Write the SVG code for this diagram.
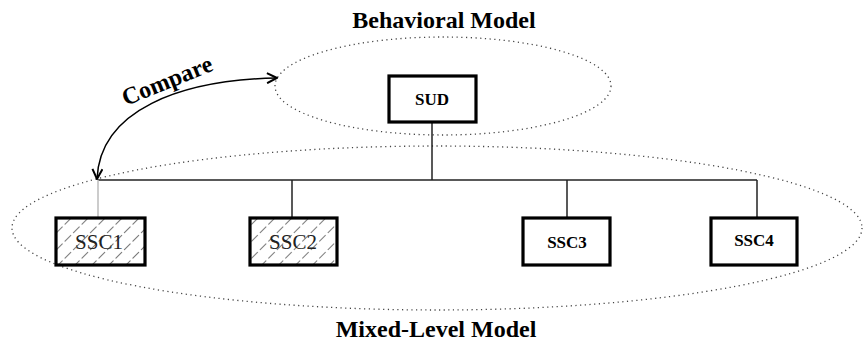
<svg xmlns="http://www.w3.org/2000/svg" width="864" height="345" viewBox="0 0 864 345">
<style>
text{font-family:"Liberation Serif","Times New Roman","DejaVu Serif",serif}
.ell{fill:none;stroke:#444;stroke-width:1.3;stroke-dasharray:1.2 3.5}
.box{fill:#fff;stroke:#000;stroke-width:3.2}
.hbox{fill:url(#hatch);stroke:#000;stroke-width:3.2}
.lbl{font-weight:bold;font-size:17px;fill:#000;text-anchor:middle}
.hlbl{font-size:21px;fill:#222;text-anchor:middle}
.title{font-weight:bold;font-size:24px;fill:#000;text-anchor:middle}
.wire{fill:none;stroke:#222;stroke-width:1.5}
</style>
<defs>
<pattern id="hatch" patternUnits="userSpaceOnUse" width="12" height="12" patternTransform="rotate(45)">
<rect width="12" height="12" fill="#fff"/>
<line x1="0" y1="0" x2="0" y2="12" stroke="#333" stroke-width="1.3" stroke-dasharray="5 3"/>
</pattern>
<marker id="arr" viewBox="0 0 12 12" refX="11" refY="6" markerWidth="12" markerHeight="12" markerUnits="userSpaceOnUse" orient="auto-start-reverse">
<path d="M1,1 L11,6 L1,11" fill="none" stroke="#000" stroke-width="2"/>
</marker>
</defs>
<ellipse class="ell" cx="443" cy="86" rx="168" ry="49"/>
<ellipse class="ell" cx="437" cy="228" rx="425" ry="82"/>
<text class="title" x="444" y="28">Behavioral Model</text>
<text class="title" x="436" y="337">Mixed-Level Model</text>
<g id="connectors">
<line class="wire" x1="432" y1="122" x2="432" y2="180"/>
<line class="wire" x1="98" y1="180" x2="757" y2="180"/>
<line x1="98" y1="180" x2="98" y2="218" stroke="#bbb" stroke-width="1.5"/>
<line class="wire" x1="292" y1="180" x2="292" y2="218"/>
<line class="wire" x1="567" y1="180" x2="567" y2="218"/>
<line class="wire" x1="757" y1="180" x2="757" y2="218"/>
<path d="M97,179 C100,110 180,80 277,78" fill="none" stroke="#000" stroke-width="1.5" marker-start="url(#arr)" marker-end="url(#arr)"/>
<text font-weight="bold" font-size="24" fill="#000" text-anchor="middle" transform="translate(170,88) rotate(-22)">Compare</text>
</g>
<g id="SUD"><rect class="box" x="389" y="76" width="87" height="46"/><text class="lbl" x="432" y="105">SUD</text></g>
<g id="SSC1"><rect class="hbox" x="56" y="218" width="89" height="47"/><text class="hlbl" x="99" y="249">SSC1</text></g>
<g id="SSC2"><rect class="hbox" x="250" y="218" width="87" height="47"/><text class="hlbl" x="293" y="249">SSC2</text></g>
<g id="SSC3"><rect class="box" x="523" y="218" width="87" height="47"/><text class="lbl" x="567" y="248">SSC3</text></g>
<g id="SSC4"><rect class="box" x="711" y="218" width="86" height="47"/><text class="lbl" x="754" y="246">SSC4</text></g>
</svg>
